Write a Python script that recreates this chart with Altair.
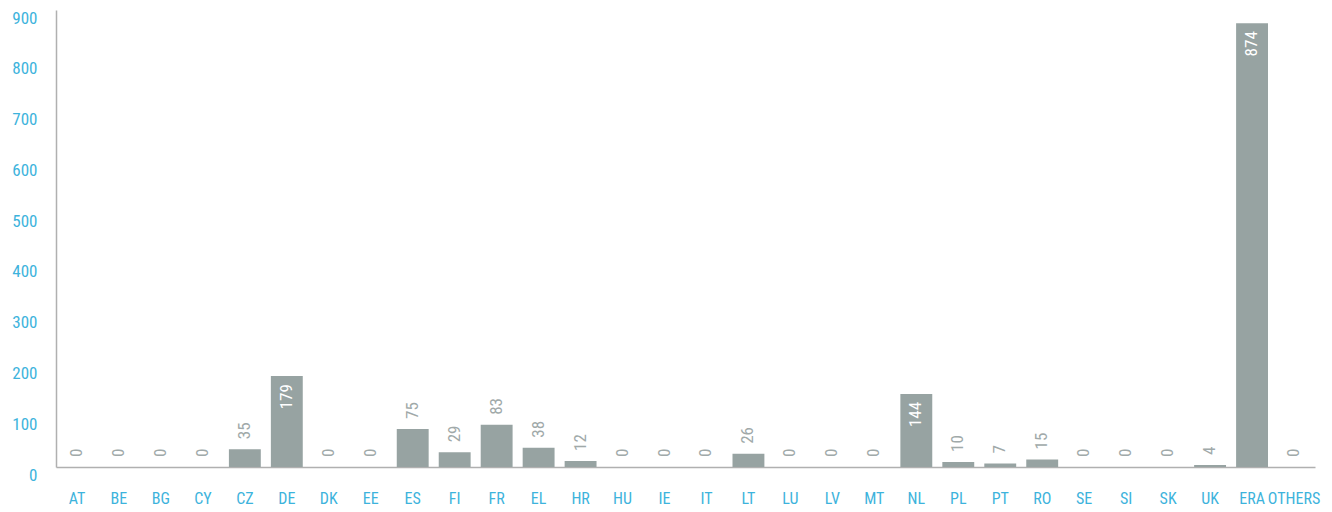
import altair as alt
import pandas as pd

categories = ["AT", "BE", "BG", "CY", "CZ", "DE", "DK", "EE", "ES", "FI", "FR", "EL", "HR", "HU",
              "IE", "IT", "LT", "LU", "LV", "MT", "NL", "PL", "PT", "RO", "SE", "SI", "SK", "UK",
              "ERA", "OTHERS"]
values = [0, 0, 0, 0, 35, 179, 0, 0, 75, 29, 83, 38, 12, 0, 0, 0, 26, 0, 0, 0, 144, 10, 7, 15,
          0, 0, 0, 4, 874, 0]
y_ticks = [0, 100, 200, 300, 400, 500, 600, 700, 800, 900]

df = pd.DataFrame({"cat": categories, "value": values})

FONT = "Roboto Condensed"
BAR = "#97a3a2"
BLUE = "#3db3dc"
GREY_TXT = "#a0a9a9"

x = alt.X("cat:N", sort=categories, title=None,
          scale=alt.Scale(paddingInner=0.24, paddingOuter=0.12),
          axis=alt.Axis(labelAngle=0, labelColor=BLUE, labelFont=FONT, labelFontSize=16,
                        labelPadding=23, ticks=False,
                        domainColor="#b0b0b0", domainWidth=1.5, grid=False))
y = alt.Y("value:Q", title=None,
          scale=alt.Scale(domain=[0, 900], nice=False),
          axis=alt.Axis(values=y_ticks, labelColor=BLUE, labelFont=FONT, labelFontSize=17,
                        labelBaseline="top", labelPadding=19, ticks=False,
                        grid=False, domainColor="#b0b0b0", domainWidth=1.5))

bars = alt.Chart(df).mark_bar(color=BAR).encode(x=x, y=y)

outside = alt.Chart(df).transform_filter("datum.value <= 100").mark_text(
    angle=270, align="left", baseline="middle", dx=10, font=FONT, fontSize=17,
    color=GREY_TXT
).encode(x=alt.X("cat:N", sort=categories), y="value:Q", text="value:Q")

inside = alt.Chart(df).transform_filter("datum.value > 100").mark_text(
    angle=270, align="right", baseline="middle", dx=-8, font=FONT, fontSize=17,
    color="white"
).encode(x=alt.X("cat:N", sort=categories), y="value:Q", text="value:Q")

chart = alt.layer(bars, outside, inside).properties(
    width=1259, height=457,
    background="white",
    autosize=alt.AutoSizeParams(type="none"),
    padding={"left": 48, "top": 2, "right": 9, "bottom": 43},
).configure_view(strokeWidth=0, stroke=None)

chart.save("out.html", embed_options={"renderer": "svg", "actions": False})
